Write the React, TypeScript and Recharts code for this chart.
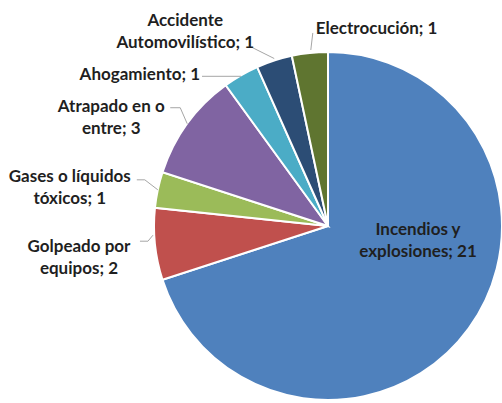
import { Cell, Pie, PieChart } from "recharts";

const categories = [
  "Incendios y explosiones",
  "Golpeado por equipos",
  "Gases o líquidos tóxicos",
  "Atrapado en o entre",
  "Ahogamiento",
  "Accidente Automovilístico",
  "Electrocución",
];
const values = [21, 2, 1, 3, 1, 1, 1];
// how each label wraps, as in the original
const labelLines = [
  ["Incendios y", "explosiones; 21"],
  ["Golpeado por", "equipos; 2"],
  ["Gases o líquidos", "tóxicos; 1"],
  ["Atrapado en o", "entre; 3"],
  ["Ahogamiento; 1"],
  ["Accidente", "Automovilístico; 1"],
  ["Electrocución; 1"],
];
const colors = ["#4F81BD", "#C0504D", "#9BBB59", "#8064A2", "#4BACC6", "#2C4D75", "#5F7530"];

// label placement relative to the slice's outer edge point:
// leader line points, and the centre of the first text line
type Layout = { line: number[][]; tx: number; ty: number; anchor: "start" | "middle" | "end"; inside?: boolean };
const layouts: Layout[] = [
  { line: [], tx: 90, ty: 2, anchor: "middle", inside: true },
  { line: [[-2, -9], [-7, -3], [-15, -3]], tx: -76, ty: 1, anchor: "middle" },
  { line: [[0, 0], [-13, -10], [-21, -10]], tx: -88, ty: -15, anchor: "middle" },
  { line: [[0, 0], [-7, -16], [-17, -16]], tx: -76, ty: -19, anchor: "middle" },
  { line: [[0, 1], [-39, 1]], tx: -41, ty: -2, anchor: "end" },
  { line: [[0, -2], [-22, -13]], tx: -89, ty: -42, anchor: "middle" },
  { line: [[1, -3], [3, -20]], tx: 6, ty: -26, anchor: "start" },
];

const data = categories.map((name, i) => ({ name, value: values[i] }));

const RAD = Math.PI / 180;
const LINE_H = 22;

function renderLabel(props: any) {
  const { cx, cy, midAngle, outerRadius, index } = props;
  const lay = layouts[index];
  const lines = labelLines[index];
  let bx: number, by: number;
  if (lay.inside) {
    bx = cx;
    by = cy;
  } else {
    bx = cx + outerRadius * Math.cos(-midAngle * RAD);
    by = cy + outerRadius * Math.sin(-midAngle * RAD);
  }
  const x = bx + lay.tx;
  const y0 = by + lay.ty;
  return (
    <g key={`lbl-${index}`}>
      {lay.line.length > 1 && (
        <polyline
          points={lay.line.map((p) => `${bx + p[0]},${by + p[1]}`).join(" ")}
          fill="none"
          stroke="#A6A6A6"
          strokeWidth={1}
        />
      )}
      <text
        x={x}
        y={y0}
        textAnchor={lay.anchor}
        dominantBaseline="central"
        fill="#1F1F1F"
        fontFamily="Lato, 'Liberation Sans', sans-serif"
        fontWeight={700}
        fontSize={17}
      >
        {lines.map((t, k) => (
          <tspan key={k} x={x} y={y0 + k * LINE_H}>
            {t}
          </tspan>
        ))}
      </text>
    </g>
  );
}

export default function App() {
  return (
    <div style={{ width: 502, height: 403 }}>
      <style>{"body{margin:0}"}</style>
      <PieChart width={502} height={403} margin={{ top: 0, right: 0, bottom: 0, left: 0 }}>
        <Pie
          data={data}
          dataKey="value"
          nameKey="name"
          cx={328}
          cy={226}
          outerRadius={174}
          startAngle={90}
          endAngle={-270}
          stroke="#FFFFFF"
          strokeWidth={2}
          labelLine={false}
          label={renderLabel}
          isAnimationActive={false}
        >
          {data.map((d, i) => (
            <Cell key={d.name} fill={colors[i]} />
          ))}
        </Pie>
      </PieChart>
    </div>
  );
}
